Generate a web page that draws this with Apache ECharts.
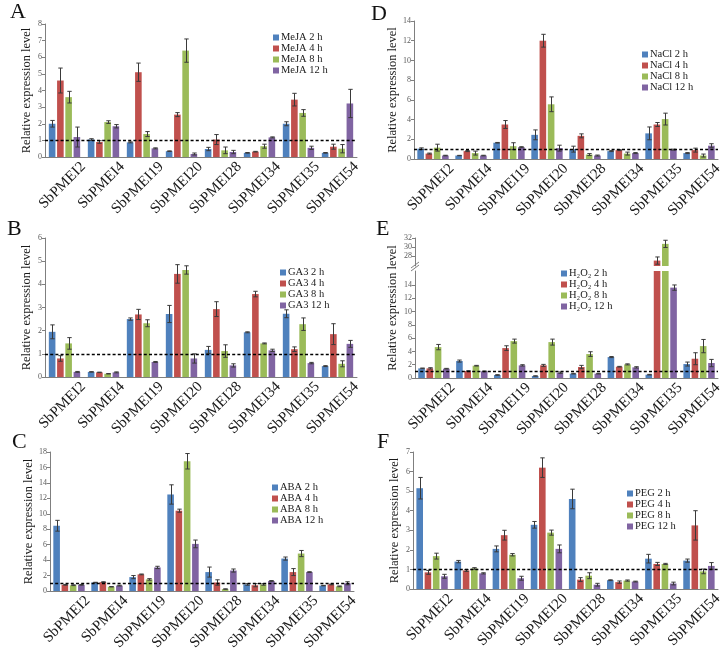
<!DOCTYPE html>
<html><head><meta charset="utf-8">
<script src="https://cdn.jsdelivr.net/npm/echarts@6/dist/echarts.min.js"></script>
<style>html,body{margin:0;padding:0;background:#fff}#c{width:728px;height:658px}</style>
</head><body><div id="c"></div>
<script>
const categories = ['SbPMEI2','SbPMEI4','SbPMEI19','SbPMEI20','SbPMEI28','SbPMEI34','SbPMEI35','SbPMEI54'];
const timePoints = ['2 h','4 h','8 h','12 h'];
const barColors = ['#4f81bd','#c0504d','#9bbb59','#8064a2'];

// A: MeJA (rows = 2 h, 4 h, 8 h, 12 h)
const mejaMeans = [
  [2.0, 1.05, 0.88, 0.35, 0.48, 0.25, 2.0, 0.25],
  [4.6, 0.9, 5.1, 2.55, 1.05, 0.32, 3.45, 0.62],
  [3.6, 2.1, 1.38, 6.4, 0.4, 0.65, 2.65, 0.5],
  [1.2, 1.85, 0.52, 0.18, 0.3, 1.18, 0.55, 3.22]
];
const mejaErrors = [
  [0.2, 0.05, 0.03, 0.02, 0.1, 0.02, 0.12, 0.02],
  [0.75, 0.08, 0.55, 0.12, 0.3, 0.02, 0.38, 0.15],
  [0.35, 0.08, 0.15, 0.7, 0.2, 0.12, 0.2, 0.25],
  [0.6, 0.1, 0.03, 0.06, 0.1, 0.03, 0.1, 0.85]
];
// B: GA3
const ga3Means = [
  [1.95, 0.22, 2.5, 2.72, 1.17, 1.93, 2.73, 0.47],
  [0.8, 0.2, 2.7, 4.45, 2.93, 3.58, 1.2, 1.85],
  [1.45, 0.14, 2.32, 4.62, 1.12, 1.45, 2.28, 0.57],
  [0.22, 0.2, 0.65, 0.8, 0.5, 1.15, 0.6, 1.43]
];
const ga3Errors = [
  [0.3, 0.01, 0.05, 0.37, 0.15, 0.02, 0.17, 0.02],
  [0.12, 0.01, 0.22, 0.4, 0.32, 0.12, 0.1, 0.45],
  [0.25, 0.01, 0.15, 0.18, 0.27, 0.02, 0.27, 0.13],
  [0.02, 0.02, 0.02, 0.2, 0.07, 0.05, 0.03, 0.15]
];
// C: ABA
const abaMeans = [
  [8.45, 1.1, 1.8, 12.5, 2.45, 0.85, 4.2, 0.7],
  [0.8, 1.15, 2.15, 10.4, 1.1, 0.75, 2.45, 0.85],
  [0.75, 0.55, 1.5, 16.8, 0.25, 0.85, 4.85, 0.6],
  [0.8, 0.7, 3.05, 6.1, 2.65, 1.3, 2.45, 1.0]
];
const abaErrors = [
  [0.7, 0.03, 0.2, 1.25, 0.65, 0.1, 0.2, 0.03],
  [0.05, 0.05, 0.05, 0.2, 0.35, 0.2, 0.45, 0.05],
  [0.05, 0.03, 0.1, 1.0, 0.03, 0.1, 0.4, 0.05],
  [0.05, 0.05, 0.15, 0.5, 0.2, 0.05, 0.05, 0.2]
];
// D: NaCl
const naclMeans = [
  [1.05, 0.35, 1.65, 2.45, 1.0, 0.8, 2.6, 0.6],
  [0.55, 0.8, 3.5, 12.0, 2.35, 0.9, 3.5, 0.9],
  [1.15, 0.6, 1.3, 5.55, 0.45, 0.55, 4.05, 0.35],
  [0.35, 0.35, 1.2, 1.1, 0.35, 0.6, 0.95, 1.35]
];
const naclErrors = [
  [0.08, 0.02, 0.03, 0.5, 0.3, 0.05, 0.65, 0.05],
  [0.05, 0.05, 0.4, 0.65, 0.2, 0.05, 0.2, 0.2],
  [0.35, 0.2, 0.35, 0.75, 0.1, 0.15, 0.6, 0.15],
  [0.03, 0.03, 0.05, 0.3, 0.05, 0.05, 0.05, 0.2]
];
// E: H2O2
const h2o2Means = [
  [1.45, 2.55, 0.45, 0.3, 0.65, 3.15, 0.5, 2.1],
  [1.45, 1.05, 4.5, 1.9, 1.65, 1.7, 27.0, 2.9],
  [4.65, 1.85, 5.55, 5.4, 3.6, 2.05, 30.7, 4.8],
  [1.4, 1.0, 1.9, 0.8, 0.65, 1.6, 13.6, 2.25]
];
const h2o2Errors = [
  [0.05, 0.15, 0.05, 0.03, 0.05, 0.08, 0.05, 0.3],
  [0.1, 0.05, 0.35, 0.15, 0.25, 0.05, 0.8, 0.9],
  [0.4, 0.05, 0.3, 0.45, 0.35, 0.08, 0.8, 1.0],
  [0.05, 0.05, 0.1, 0.1, 0.05, 0.1, 0.4, 0.55]
];
// F: PEG
const pegMeans = [
  [5.15, 1.4, 2.05, 3.28, 4.6, 0.45, 1.55, 1.45],
  [0.85, 0.95, 2.75, 6.2, 0.48, 0.35, 1.28, 3.25],
  [1.68, 1.05, 1.75, 2.88, 0.68, 0.43, 1.28, 0.9],
  [0.65, 0.8, 0.55, 2.05, 0.22, 0.38, 0.28, 1.18]
];
const pegErrors = [
  [0.55, 0.06, 0.15, 0.17, 0.5, 0.02, 0.22, 0.08],
  [0.1, 0.05, 0.25, 0.5, 0.1, 0.06, 0.08, 0.75],
  [0.15, 0.04, 0.06, 0.13, 0.15, 0.03, 0.03, 0.12],
  [0.1, 0.03, 0.1, 0.2, 0.07, 0.02, 0.07, 0.17]
];
const yAxisTitle = 'Relative expression level';

const FONT = '"Liberation Serif","Times New Roman",serif';
const BAR_W = 6.6, GAP_RATIO = 0.25, ERR_COLOR = '#3a3a3a', AXIS_COLOR = '#7f7f7f';

const grids = [
  {left:45, top:24, width:312, height:133},   // 0 A
  {left:45, top:238, width:312, height:139},  // 1 B
  {left:50, top:452, width:304, height:139},  // 2 C
  {left:414, top:21, width:304, height:138},  // 3 D
  {left:415, top:271, width:303, height:107}, // 4 E lower
  {left:415, top:238, width:303, height:28},  // 5 E upper
  {left:413, top:452, width:305, height:137}  // 6 F
];
const yScales = [
  {max:8, interval:1},
  {max:6, interval:1},
  {max:18, interval:2},
  {max:14, interval:2},
  {min:0, max:16.1, ticks:[0,2,4,6,8,10,12,14]},
  {min:25.8, max:32, ticks:[28,30,32]},
  {max:7, interval:1}
];
const panels = [
  {letter:'A', prefix:'MeJA', means:mejaMeans, errs:mejaErrors, grids:[0], legend:{left:273, top:32}, letterPos:[10,1]},
  {letter:'B', prefix:'GA3', means:ga3Means, errs:ga3Errors, grids:[1], legend:{left:280, top:267}, letterPos:[7,218]},
  {letter:'C', prefix:'ABA', means:abaMeans, errs:abaErrors, grids:[2], legend:{left:272, top:482}, letterPos:[12,431]},
  {letter:'D', prefix:'NaCl', means:naclMeans, errs:naclErrors, grids:[3], legend:{left:642, top:49}, letterPos:[371,3]},
  {letter:'E', prefix:'H\u2082O\u2082', means:h2o2Means, errs:h2o2Errors, grids:[4,5], legend:{left:561, top:268}, letterPos:[376,218]},
  {letter:'F', prefix:'PEG', means:pegMeans, errs:pegErrors, grids:[6], legend:{left:627, top:488}, letterPos:[377,431]}
];

function errRender(idx) {
  return function (params, api) {
    const c = api.value(0), v = api.value(1), e = api.value(2);
    const total = 4 * BAR_W + 3 * BAR_W * GAP_RATIO;
    const off = -total / 2 + BAR_W / 2 + idx * BAR_W * (1 + GAP_RATIO);
    const pt = api.coord([c, v + e]), pb = api.coord([c, v - e]);
    const x = Math.round(pt[0] + off) + 0.5, cw = 2.2;
    const st = {stroke: ERR_COLOR, lineWidth: 1};
    return {type:'group', children:[
      {type:'line', shape:{x1:x, y1:pt[1], x2:x, y2:pb[1]}, style:st},
      {type:'line', shape:{x1:x-cw, y1:pt[1], x2:x+cw, y2:pt[1]}, style:st},
      {type:'line', shape:{x1:x-cw, y1:pb[1], x2:x+cw, y2:pb[1]}, style:st}
    ]};
  };
}

const xAxes = grids.map((g, gi) => ({
  gridIndex: gi, type:'category', data: categories, show: gi !== 5,
  axisLine:{lineStyle:{color:AXIS_COLOR}},
  axisTick:{length:4, lineStyle:{color:AXIS_COLOR}},
  axisLabel:{interval:0, rotate:45, fontSize:15, fontFamily:FONT, color:'#1a1a1a', margin:0,
    verticalAlign:'top', padding:[11,-8,0,0]}
}));
const yAxes = grids.map((g, gi) => {
  const s = yScales[gi];
  const ax = {
    gridIndex: gi, type:'value', min: s.min !== undefined ? s.min : 0, max: s.max,
    splitLine:{show:false},
    axisLine:{show:true, lineStyle:{color:AXIS_COLOR}},
    axisTick:{show:true, length:3, lineStyle:{color:AXIS_COLOR}},
    axisLabel:{fontSize:8, fontFamily:FONT, color:'#595959', margin:3}
  };
  if (s.interval) ax.interval = s.interval;
  if (s.ticks) { ax.axisTick.customValues = s.ticks; ax.axisLabel.customValues = s.ticks; }
  if (gi !== 4 && gi !== 5) {
    ax.name = yAxisTitle; ax.nameLocation = 'middle'; ax.nameGap = 12;
    ax.nameTextStyle = {fontSize:12.5, fontFamily:FONT, color:'#1a1a1a'};
  }
  return ax;
});

const series = [];
const legends = [];
const titles = [];
panels.forEach(p => {
  const names = timePoints.map(t => p.prefix + ' ' + t);
  legends.push({
    left:p.legend.left, top:p.legend.top, orient:'vertical', data:names, selectedMode:false,
    icon:'rect', itemWidth:6, itemHeight:6, itemGap:0, padding:0,
    textStyle:{fontSize:10.5, fontFamily:FONT, color:'#1a1a1a', lineHeight:9, padding:[0,0,0,-3]}
  });
  titles.push({text:p.letter, left:p.letterPos[0], top:p.letterPos[1], padding:0,
    textStyle:{fontSize:22, fontFamily:FONT, fontWeight:'normal', color:'#111'}});
  p.grids.forEach((gi, k) => {
    for (let i = 0; i < 4; i++) {
      const bar = {
        type:'bar', name:names[i], xAxisIndex:gi, yAxisIndex:gi, data:p.means[i],
        barWidth:BAR_W, barGap:(GAP_RATIO*100)+'%', itemStyle:{color:barColors[i]}, clip:true, z:2
      };
      if (i === 0 && k === 0) {
        bar.markLine = {silent:true, symbol:'none', label:{show:false}, animation:false,
          lineStyle:{color:'#000', type:[3,2.2], width:1.3}, data:[{yAxis:1}]};
      }
      series.push(bar);
      series.push({
        type:'custom', name:'err ' + names[i], xAxisIndex:gi, yAxisIndex:gi, clip:true, z:3,
        data: p.means[i].map((v, c) => [c, v, p.errs[i][c]]),
        encode:{x:0, y:1}, renderItem: errRender(i)
      });
    }
  });
});

const chart = echarts.init(document.getElementById('c'), null, {renderer:'canvas'});
chart.setOption({
  animation:false, backgroundColor:'#fff',
  title: titles, grid: grids, xAxis: xAxes, yAxis: yAxes, legend: legends, series: series,
  graphic: [
    {type:'text', x:393, y:308, rotation:Math.PI/2,
      style:{text:yAxisTitle, align:'center', verticalAlign:'middle', font:'12.5px ' + FONT, fill:'#1a1a1a'}},
    {type:'line', shape:{x1:411, y1:271, x2:419, y2:265}, style:{stroke:AXIS_COLOR, lineWidth:1}},
    {type:'line', shape:{x1:411, y1:268, x2:419, y2:262}, style:{stroke:AXIS_COLOR, lineWidth:1}}
  ]
});
</script></body></html>
